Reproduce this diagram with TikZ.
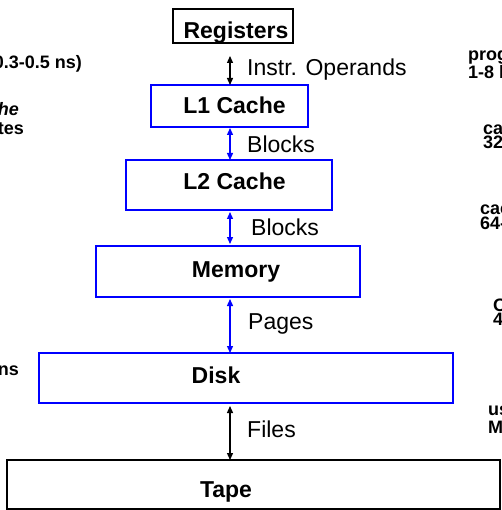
\documentclass[tikz,border=0pt]{standalone}
\usepackage{fontspec}
\setmainfont{Liberation Sans}
\usetikzlibrary{arrows.meta}
\definecolor{HierBlue}{HTML}{0000FF}
\definecolor{HierInk}{HTML}{000000}

\begin{document}
\begin{tikzpicture}[x=1pt,y=-1pt,
  levelbox/.style={draw=HierBlue,line width=2.6pt,inner sep=0pt,outer sep=0pt},
  endbox/.style={levelbox,draw=HierInk,line width=2.2pt},
  leveltext/.style={anchor=base,inner sep=0pt,font=\fontsize{23}{27}\selectfont\bfseries},
  xfertext/.style={anchor=base west,inner sep=0pt,font=\fontsize{23}{27}\selectfont},
  sidetext/.style={inner sep=0pt,font=\fontsize{18}{14.5}\selectfont\bfseries},
  unittext/.style={sidetext,anchor=west,align=left},
  xfer/.style={{Triangle[length=7pt,width=6pt]}-{Triangle[length=7pt,width=6pt]},line width=1.3pt,HierBlue},
]
\path[use as bounding box] (0,0) rectangle (501,510);
\clip (0,0) rectangle (501,510);
% levels of the hierarchy
\node[endbox,minimum width=120pt,minimum height=34pt] (reg) at (233,26) {};
\node[levelbox,minimum width=157pt,minimum height=42pt] (l1) at (229.5,106) {};
\node[levelbox,minimum width=206pt,minimum height=50pt] (l2) at (229,185) {};
\node[levelbox,minimum width=264pt,minimum height=51pt] (mem) at (228,271.5) {};
\node[levelbox,minimum width=414pt,minimum height=50pt] (disk) at (246,378) {};
\node[endbox,minimum width=493pt,minimum height=49pt] (tape) at (253.5,484.5) {};
\node[leveltext] (regtext) at (236,39) {Registers};
\node[leveltext] (l1text) at (234.5,114) {L1 Cache};
\node[leveltext] (l2text) at (234.5,190) {L2 Cache};
\node[leveltext] (memtext) at (236,277) {Memory};
\node[leveltext] (disktext) at (216,383) {Disk};
\node[leveltext] (tapetext) at (226,497) {Tape};
% transfers between levels
\coordinate (ax) at (230,0);
\draw[xfer,HierInk,shorten <=13pt] (reg.south -| ax) -- (l1.north -| ax);
\draw[xfer,shorten <=1pt] (l1.south -| ax) -- (l2.north -| ax);
\draw[xfer,shorten <=2pt,shorten >=2pt] (l2.south -| ax) -- (mem.north -| ax);
\draw[xfer,shorten <=2pt] (mem.south -| ax) -- (disk.north -| ax);
\draw[xfer,HierInk,shorten <=3pt] (disk.south -| ax) -- (tape.north -| ax);
\node[xfertext] (opl) at (247,76) {Instr. Operands};
\node[xfertext] (blk1) at (247,153) {Blocks};
\node[xfertext] (blk2) at (251,236) {Blocks};
\node[xfertext] (pgl) at (248,329) {Pages};
\node[xfertext] (fil) at (247,437) {Files};
% cut off columns at the sides
\node[sidetext,anchor=base east] (regtime) at (82,69) {(0.3-0.5 ns)};
\node[sidetext,anchor=base east,font=\fontsize{18}{14.5}\selectfont\bfseries\itshape] (cachename) at (19,116) {Cache};
\node[sidetext,anchor=base east] (cachesize) at (24,135) {Bytes};
\node[sidetext,anchor=base east] (disktime) at (19,375) {ns};
\node[unittext] (unit1) at (468,64.5) {prog./compiler\\1-8 bytes};
\node[unittext] (unit2) at (483,137) {cache cntl\\32-64 bytes};
\node[unittext] (unit3) at (480,217.5) {cache cntl\\64-128 bytes};
\node[unittext] (unit4) at (493,314) {OS\\4K-8K bytes};
\node[unittext] (unit5) at (488,420) {user/operator\\Mbytes};
\end{tikzpicture}
\end{document}
